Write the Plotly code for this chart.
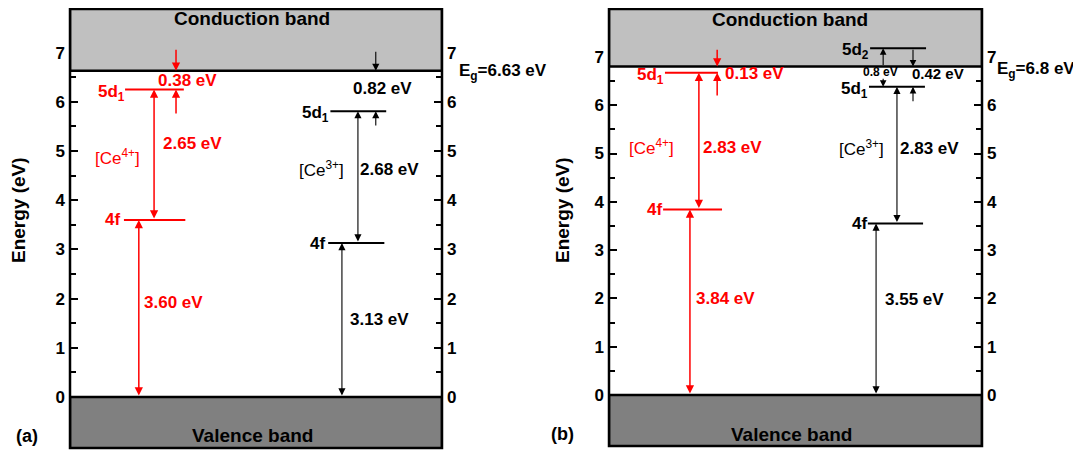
import plotly.graph_objects as go

# ---------------- data (eV) ----------------
# panel (a)
eg_a = 6.63
ce4_4f_a = 3.60
ce4_gap_a = 2.65
ce4_cb_a = 0.38
ce3_4f_a = 3.13
ce3_gap_a = 2.68
ce3_cb_a = 0.82
# panel (b)
eg_b = 6.8
ce4_4f_b = 3.84
ce4_gap_b = 2.83
ce4_cb_b = 0.13
ce3_4f_b = 3.55
ce3_gap_b = 2.83
ce3_cb_b = 0.42
ce3_d1d2_b = 0.8

ytick_vals = [0, 1, 2, 3, 4, 5, 6, 7]
minor_vals = [-0.5, 0.5, 1.5, 2.5, 3.5, 4.5, 5.5, 6.5, 7.5]

# derived levels
ce4_5d1_a = ce4_4f_a + ce4_gap_a
ce3_5d1_a = ce3_4f_a + ce3_gap_a
ce4_5d1_b = ce4_4f_b + ce4_gap_b
ce3_5d1_b = ce3_4f_b + ce3_gap_b
ce3_5d2_b = ce3_5d1_b + ce3_d1d2_b

RED = "#ff0000"
BLK = "#000000"
FONT = "Liberation Sans"
W, H = 1081, 454
OFF = 8                      # page body margin
FW, FH = W - OFF, H - OFF    # figure size


def px(x):
    return (x - OFF) / FW


def py(y):
    return 1 - (y - OFF) / FH


fig = go.Figure()


def band_traces(xa, ya, eg, lo, hi):
    fig.add_trace(go.Scatter(x=[0, 1, 1, 0, 0], y=[eg, eg, hi, hi, eg], mode="lines",
                             fill="toself", fillcolor="#c0c0c0",
                             line=dict(color=BLK, width=2.5), xaxis=xa, yaxis=ya,
                             hoverinfo="skip", showlegend=False))
    fig.add_trace(go.Scatter(x=[0, 1, 1, 0, 0], y=[0, 0, lo, lo, 0], mode="lines",
                             fill="toself", fillcolor="#808080",
                             line=dict(color=BLK, width=2.5), xaxis=xa, yaxis=ya,
                             hoverinfo="skip", showlegend=False))


def levels(xa, ya, segs, color):
    xs, ys = [], []
    for x0, x1, e in segs:
        xs += [x0, x1, None]
        ys += [e, e, None]
    fig.add_trace(go.Scatter(x=xs, y=ys, mode="lines", line=dict(color=color, width=2),
                             xaxis=xa, yaxis=ya, hoverinfo="skip", showlegend=False))


band_traces("x", "y", eg_a, -1.5, 8.6)
band_traces("x2", "y3", eg_b, -1.5, 8.6)

levels("x", "y", [(0.145, 0.31, ce4_4f_a), (0.148, 0.306, ce4_5d1_a)], RED)
levels("x", "y", [(0.694, 0.845, ce3_4f_a), (0.70, 0.85, ce3_5d1_a)], BLK)
levels("x2", "y3", [(0.145, 0.303, ce4_4f_b), (0.15, 0.292, ce4_5d1_b)], RED)
levels("x2", "y3", [(0.694, 0.842, ce3_4f_b), (0.697, 0.847, ce3_5d1_b),
                    (0.70, 0.85, ce3_5d2_b)], BLK)

# dummy traces so overlaying right axes exist
fig.add_trace(go.Scatter(x=[None], y=[None], xaxis="x", yaxis="y2", showlegend=False))
fig.add_trace(go.Scatter(x=[None], y=[None], xaxis="x2", yaxis="y4", showlegend=False))

ann = []


def arrow(xr, yr, x, ytail, yhead, color, width, double=False, size=1.0):
    d = dict(xref=xr, yref=yr, axref=xr, ayref=yr, x=x, y=yhead, ax=x, ay=ytail,
             text="", showarrow=True, arrowhead=2, arrowsize=size, arrowwidth=width,
             arrowcolor=color, standoff=0, startstandoff=0)
    if double:
        d.update(arrowside="end+start", startarrowhead=2, startarrowsize=size)
    ann.append(d)


def text(xr, yr, x, y, s, color=BLK, size=17, xanchor="center", yshift=0, bold=True):
    ann.append(dict(xref=xr, yref=yr, x=x, y=y, text=(f"<b>{s}</b>" if bold else s),
                    showarrow=False, xanchor=xanchor, yanchor="middle", yshift=yshift,
                    font=dict(family=FONT, size=size, color=color)))


# ---- panel (a) arrows ----
rw, bw = 1.5, 1.1
arrow("x", "y", 0.285, eg_a + 0.46, eg_a, RED, rw, size=1.1)
arrow("x", "y", 0.285, ce4_5d1_a - 0.52, ce4_5d1_a, RED, rw, size=1.1)
arrow("x", "y", 0.226, ce4_4f_a, ce4_5d1_a, RED, rw, True, size=1.1)
arrow("x", "y", 0.185, 0, ce4_4f_a, RED, rw, True, size=1.1)
arrow("x", "y", 0.822, eg_a + 0.42, eg_a, BLK, bw, size=1.3)
arrow("x", "y", 0.822, ce3_5d1_a - 0.32, ce3_5d1_a, BLK, bw, size=1.3)
arrow("x", "y", 0.774, ce3_4f_a, ce3_5d1_a, BLK, bw, True, size=1.3)
arrow("x", "y", 0.731, 0, ce3_4f_a, BLK, bw, True, size=1.3)

# ---- panel (b) arrows ----
arrow("x2", "y3", 0.29, eg_b + 0.38, eg_b, RED, rw, size=1.1)
arrow("x2", "y3", 0.29, ce4_5d1_b - 0.5, ce4_5d1_b, RED, rw, size=1.1)
arrow("x2", "y3", 0.241, ce4_4f_b, ce4_5d1_b, RED, rw, True, size=1.1)
arrow("x2", "y3", 0.217, 0, ce4_4f_b, RED, rw, True, size=1.1)
arrow("x2", "y3", 0.735, eg_b, ce3_5d2_b, BLK, bw, size=1.2)
arrow("x2", "y3", 0.735, ce3_5d1_b + 0.2, ce3_5d1_b, BLK, bw, size=1.2)
arrow("x2", "y3", 0.815, ce3_5d2_b, eg_b, BLK, bw, size=1.2)
arrow("x2", "y3", 0.815, ce3_5d1_b - 0.33, ce3_5d1_b, BLK, bw, size=1.2)
arrow("x2", "y3", 0.772, ce3_4f_b, ce3_5d1_b, BLK, bw, True, size=1.3)
arrow("x2", "y3", 0.716, 0, ce3_4f_b, BLK, bw, True, size=1.3)

# ---- panel (a) texts ----
text("x", "y", 0.49, 7.70, "Conduction band", size=19)
text("x", "y", 0.49, -0.79, "Valence band", size=19)
text("x", "y", 0.152, ce4_5d1_a, "5d<sub>1</sub>", RED, xanchor="right", yshift=-3)
text("x", "y", 0.14, ce4_4f_a, "4f", RED, xanchor="right")
text("x", "y", 0.317, 6.44, f"{ce4_cb_a:.2f} eV", RED)
text("x", "y", 0.33, 5.16, f"{ce4_gap_a:.2f} eV", RED)
text("x", "y", 0.127, 4.88, "[Ce<sup>4+</sup>]", RED, bold=False)
text("x", "y", 0.277, 1.93, f"{ce4_4f_a:.2f} eV", RED)
text("x", "y", 0.839, 6.28, f"{ce3_cb_a:.2f} eV")
text("x", "y", 0.702, ce3_5d1_a, "5d<sub>1</sub>", xanchor="right", yshift=-3)
text("x", "y", 0.69, ce3_4f_a, "4f", xanchor="right")
text("x", "y", 0.677, 4.63, "[Ce<sup>3+</sup>]", bold=False)
text("x", "y", 0.86, 4.63, f"{ce3_gap_a:.2f} eV")
text("x", "y", 0.833, 1.57, f"{ce3_4f_a:.2f} eV")

# ---- panel (b) texts ----
text("x2", "y3", 0.485, 7.78, "Conduction band", size=19)
text("x2", "y3", 0.49, -0.81, "Valence band", size=19)
text("x2", "y3", 0.152, ce4_5d1_b, "5d<sub>1</sub>", RED, xanchor="right", yshift=-3)
text("x2", "y3", 0.148, ce4_4f_b, "4f", RED, xanchor="right")
text("x2", "y3", 0.306, ce4_5d1_b, f"{ce4_cb_b:.2f} eV", RED, xanchor="left", yshift=-1)
text("x2", "y3", 0.115, 5.13, "[Ce<sup>4+</sup>]", RED, bold=False)
text("x2", "y3", 0.332, 5.13, f"{ce4_gap_b:.2f} eV", RED)
text("x2", "y3", 0.311, 2.0, f"{ce4_4f_b:.2f} eV", RED)
text("x2", "y3", 0.703, ce3_5d2_b, "5d<sub>2</sub>", xanchor="right", yshift=-3)
text("x2", "y3", 0.700, ce3_5d1_b, "5d<sub>1</sub>", xanchor="right", yshift=-3)
text("x2", "y3", 0.698, ce3_4f_b, "4f", xanchor="right")
text("x2", "y3", 0.727, 6.69, f"{ce3_d1d2_b:.1f} eV", size=12)
text("x2", "y3", 0.882, 6.65, f"{ce3_cb_b:.2f} eV", size=15)
text("x2", "y3", 0.678, 5.11, "[Ce<sup>3+</sup>]", bold=False)
text("x2", "y3", 0.86, 5.11, f"{ce3_gap_b:.2f} eV")
text("x2", "y3", 0.82, 1.97, f"{ce3_4f_b:.2f} eV")

# Eg labels, axis titles, panel letters
ann.append(dict(xref="paper", yref="y", x=px(457), y=eg_a, xanchor="left", yanchor="middle",
                text=f"<b>E<sub>g</sub>={eg_a:.2f} eV</b>", showarrow=False, yshift=-1,
                font=dict(family=FONT, size=17, color=BLK)))
ann.append(dict(xref="paper", yref="y3", x=px(995), y=eg_b, xanchor="left", yanchor="middle",
                text=f"<b>E<sub>g</sub>={eg_b:.1f} eV</b>", showarrow=False, yshift=-3,
                font=dict(family=FONT, size=17, color=BLK)))
for xp in (18, 562):
    ann.append(dict(xref="paper", yref="paper", x=px(xp), y=py(210), text="<b>Energy (eV)</b>",
                    textangle=-90, showarrow=False, xanchor="center", yanchor="middle",
                    font=dict(family=FONT, size=19, color=BLK)))
ann.append(dict(xref="paper", yref="paper", x=px(27), y=py(436), text="<b>(a)</b>",
                showarrow=False, xanchor="center", yanchor="middle",
                font=dict(family=FONT, size=18, color=BLK)))
ann.append(dict(xref="paper", yref="paper", x=px(562), y=py(434), text="<b>(b)</b>",
                showarrow=False, xanchor="center", yanchor="middle",
                font=dict(family=FONT, size=18, color=BLK)))

# frames
shapes = []
for xr, yr in (("x", "y"), ("x2", "y3")):
    shapes.append(dict(type="rect", xref=f"{xr} domain", yref=f"{yr} domain", x0=0, x1=1, y0=0, y1=1,
                       line=dict(color=BLK, width=2.5), fillcolor="rgba(0,0,0,0)", layer="above"))


def yax(rng, dom, side, anchor, overlaying=None):
    d = dict(range=rng, tickmode="array", tickvals=ytick_vals, ticks="inside", ticklen=8,
             tickwidth=2, tickcolor=BLK, showgrid=False, zeroline=False, showline=False,
             layer="below traces", side=side, anchor=anchor, ticklabelstandoff=4,
             tickfont=dict(family=FONT, size=17, color=BLK, weight="bold"),
             minor=dict(tickmode="array", tickvals=minor_vals, ticks="inside", ticklen=6,
                        tickwidth=2, tickcolor=BLK, showgrid=False),
             fixedrange=True)
    if overlaying:
        d["overlaying"] = overlaying
    else:
        d["domain"] = dom
    return d


# y ranges chosen so that 0 eV sits at the valence-band edge
rng_a = [-(448 - 397) / 49.2, (397 - 9) / 49.2]
rng_b = [-(446 - 395) / 48.3, (395 - 9) / 48.3]
dom_a = [py(448), py(9)]
dom_b = [py(446), py(9)]

fig.update_layout(
    width=FW, height=FH, autosize=False,
    margin=dict(l=0, r=0, t=0, b=0),
    paper_bgcolor="white", plot_bgcolor="white",
    showlegend=False,
    xaxis=dict(domain=[px(70), px(442)], range=[0, 1], visible=False, fixedrange=True, anchor="y"),
    xaxis2=dict(domain=[px(609), px(982)], range=[0, 1], visible=False, fixedrange=True, anchor="y3"),
    yaxis=yax(rng_a, dom_a, "left", "x"),
    yaxis2=yax(rng_a, dom_a, "right", "x", overlaying="y"),
    yaxis3=yax(rng_b, dom_b, "left", "x2"),
    yaxis4=yax(rng_b, dom_b, "right", "x2", overlaying="y3"),
    annotations=ann,
    shapes=shapes,
)

fig.write_html("out.html")
